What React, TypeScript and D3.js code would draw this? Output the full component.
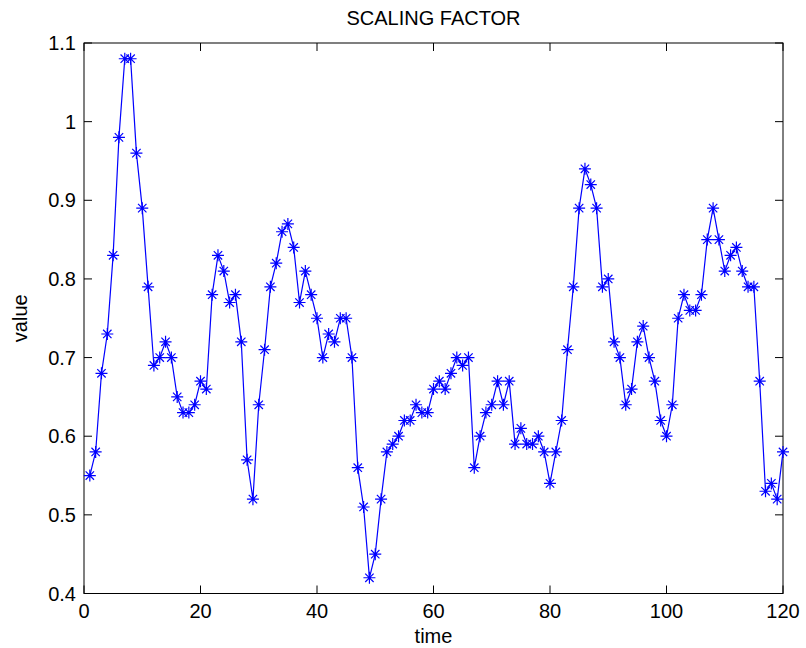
import React from "react";
import * as d3 from "d3";

const timeSteps: number[] = d3.range(1, 121);
const values: number[] = [
  0.55, 0.58, 0.68, 0.73, 0.83, 0.98, 1.08, 1.08, 0.96, 0.89,
  0.79, 0.69, 0.70, 0.72, 0.70, 0.65, 0.63, 0.63, 0.64, 0.67,
  0.66, 0.78, 0.83, 0.81, 0.77, 0.78, 0.72, 0.57, 0.52, 0.64,
  0.71, 0.79, 0.82, 0.86, 0.87, 0.84, 0.77, 0.81, 0.78, 0.75,
  0.70, 0.73, 0.72, 0.75, 0.75, 0.70, 0.56, 0.51, 0.42, 0.45,
  0.52, 0.58, 0.59, 0.60, 0.62, 0.62, 0.64, 0.63, 0.63, 0.66,
  0.67, 0.66, 0.68, 0.70, 0.69, 0.70, 0.56, 0.60, 0.63, 0.64,
  0.67, 0.64, 0.67, 0.59, 0.61, 0.59, 0.59, 0.60, 0.58, 0.54,
  0.58, 0.62, 0.71, 0.79, 0.89, 0.94, 0.92, 0.89, 0.79, 0.80,
  0.72, 0.70, 0.64, 0.66, 0.72, 0.74, 0.70, 0.67, 0.62, 0.60,
  0.64, 0.75, 0.78, 0.76, 0.76, 0.78, 0.85, 0.89, 0.85, 0.81,
  0.83, 0.84, 0.81, 0.79, 0.79, 0.67, 0.53, 0.54, 0.52, 0.58,
];
const xTicks: number[] = [0, 20, 40, 60, 80, 100, 120];
const yTicks: number[] = [0.4, 0.5, 0.6, 0.7, 0.8, 0.9, 1.0, 1.1];
const titleText = "SCALING FACTOR";
const xLabel = "time";
const yLabel = "value";

const W = 806;
const H = 648;
const left = 84;
const right = 783;
const top = 43;
const bottom = 593.5;
const font = "'Liberation Sans', Arial, Helvetica, sans-serif";
const blue = "#0000ff";

export default function App() {
  const x = d3.scaleLinear().domain([0, 120]).range([left, right]);
  const y = d3.scaleLinear().domain([0.4, 1.1]).range([bottom, top]);
  const pts = timeSteps.map((t, i) => [x(t), y(values[i])] as [number, number]);
  const line = d3.line<[number, number]>()(pts) || "";
  const star = (cx: number, cy: number) => {
    const a = 6;
    const b = 4.2;
    return `M${cx - a},${cy}L${cx + a},${cy}M${cx},${cy - a}L${cx},${cy + a}` +
      `M${cx - b},${cy - b}L${cx + b},${cy + b}M${cx - b},${cy + b}L${cx + b},${cy - b}`;
  };
  const tickLen = 8;
  const fmtY = (v: number) => (Math.abs(v - 1) < 1e-9 ? "1" : d3.format(".1f")(v));
  return (
    <svg width={W} height={H} style={{ position: "absolute", left: 0, top: 0, background: "#fff" }}
      fontFamily={font}>
      <rect x={0} y={0} width={W} height={H} fill="#fff" />
      <text x={(left + right) / 2} y={25} textAnchor="middle" fontSize={20} fill="#000">{titleText}</text>
      {/* ticks */}
      {xTicks.map((t) => (
        <g key={"xt" + t}>
          <line x1={x(t)} x2={x(t)} y1={bottom} y2={bottom - tickLen} stroke="#000" />
          <line x1={x(t)} x2={x(t)} y1={top} y2={top + tickLen} stroke="#000" />
          <text x={x(t)} y={618} textAnchor="middle" fontSize={20} fill="#000">{t}</text>
        </g>
      ))}
      {yTicks.map((v) => (
        <g key={"yt" + v}>
          <line x1={left} x2={left + tickLen} y1={y(v)} y2={y(v)} stroke="#000" />
          <line x1={right} x2={right - tickLen} y1={y(v)} y2={y(v)} stroke="#000" />
          <text x={76} y={y(v) + 7} textAnchor="end" fontSize={20} fill="#000">{fmtY(v)}</text>
        </g>
      ))}
      <rect x={left} y={top} width={right - left} height={bottom - top} fill="none" stroke="#000" strokeWidth={1} />
      <path d={line} fill="none" stroke={blue} strokeWidth={1.2} />
      {pts.map((p, i) => (
        <path key={"m" + i} d={star(p[0], p[1])} stroke={blue} strokeWidth={1.2} fill="none" />
      ))}
      <text x={(left + right) / 2} y={643} textAnchor="middle" fontSize={20} fill="#000">{xLabel}</text>
      <text transform={`translate(27,${(top + bottom) / 2}) rotate(-90)`} textAnchor="middle" fontSize={20} fill="#000">{yLabel}</text>
    </svg>
  );
}
